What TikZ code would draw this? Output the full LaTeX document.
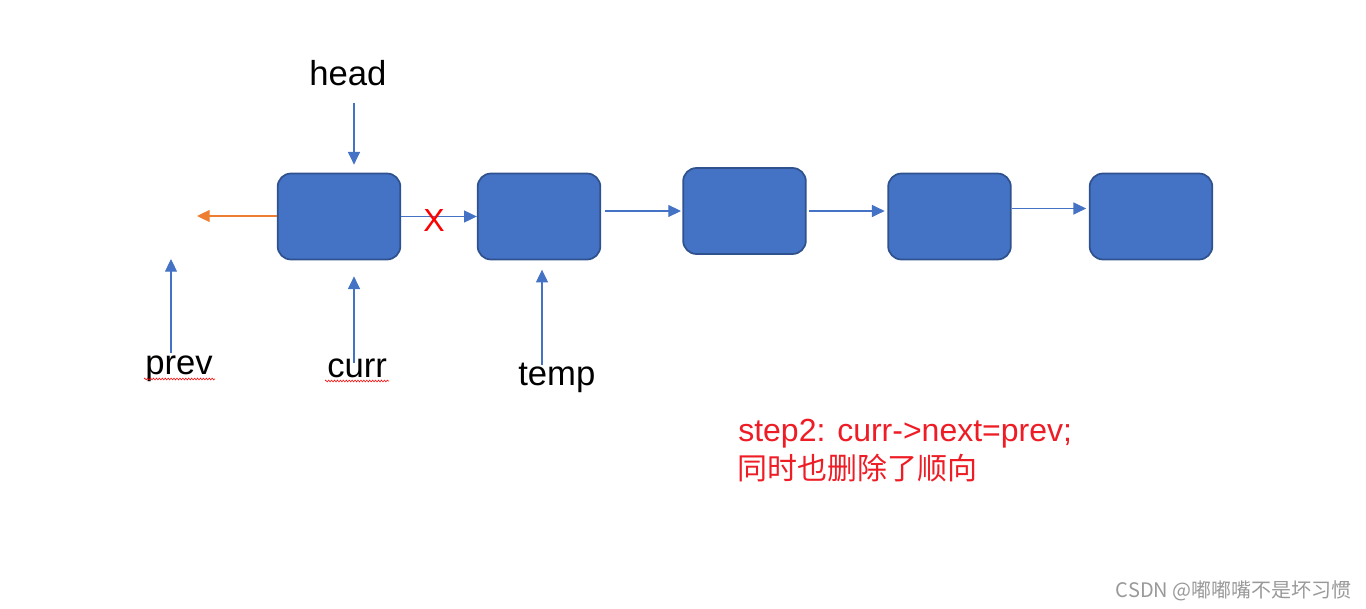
\documentclass[tikz,border=0pt]{standalone}
\usepackage{fontspec}
\setmainfont{Liberation Sans}
\newfontfamily\cjk{Noto Sans CJK SC}
\usetikzlibrary{arrows.meta,decorations.pathmorphing}
\definecolor{boxfill}{HTML}{4472C4}
\definecolor{boxline}{HTML}{2F528F}
\definecolor{arrblue}{HTML}{4472C4}
\definecolor{arrorange}{HTML}{ED7D31}
\definecolor{notered}{HTML}{EE1C25}
\definecolor{wmgray}{HTML}{999999}
\tikzset{
  nodebox/.style={draw=boxline, fill=boxfill, line width=1.3pt, rounded corners=10pt,
    minimum width=92pt, minimum height=64.5pt, inner sep=0pt},
  ptr/.style={draw=arrblue, line width=0.8pt, -{Triangle[length=9.5pt,width=9pt]}},
  optr/.style={draw=arrorange, line width=0.8pt, -{Triangle[length=9.5pt,width=9pt]}},
  lbl/.style={anchor=base west, inner sep=0pt, font=\fontsize{26}{30}\selectfont},
  wavy/.style={draw=red, line width=0.4pt, decorate, decoration={zigzag, amplitude=0.7pt, segment length=2.2pt}}
}
\begin{document}
\begin{tikzpicture}[x=0.75pt,y=-0.75pt]
\useasboundingbox (0,0) rectangle (1366,609);
% boxes
\node[nodebox] (b1) at (339,216.5) {};
\node[nodebox] (b2) at (539,216.5) {};
\node[nodebox] (b3) at (744.5,211) {};
\node[nodebox] (b4) at (949.5,216.5) {};
\node[nodebox] (b5) at (1151,216.5) {};
% labels
\node[lbl] (head) at (309,86) {head};
\node[lbl] (prev) at (145,374) {prev};
\node[lbl] (curr) at (327,377) {curr};
\node[lbl] (temp) at (518,385) {temp};
% pointer ends
\coordinate (headS) at (354,103);
\coordinate (prevS) at (171,353);
\coordinate (prevT) at (171,259);
\coordinate (currS) at (354,363);
\coordinate (tempS) at (542,365);
\coordinate (nullT) at (197,216);
% pointer arrows
\draw[ptr] (headS) -- ([yshift=6pt]b1.north -| headS);
\draw[ptr] (prevS) -- (prevT);
\draw[ptr] (currS) -- ([yshift=-12pt]b1.south -| currS);
\draw[ptr] (tempS) -- ([yshift=-7pt]b2.south -| tempS);
% links
\draw[optr] (b1.west |- nullT) -- (nullT);
\draw[ptr] (b1.east) -- (b2.west);
\draw[ptr, shorten <=3pt, shorten >=1pt] (b2.east |- b3.west) -- (b3.west);
\draw[ptr, shorten <=2pt, shorten >=2pt] (b3.east) -- (b4.west |- b3.east);
\draw[ptr, shorten >=2pt] ([yshift=6pt]b4.east) -- ([yshift=6pt]b5.west);
% cross
\node[text=red, inner sep=0pt, font=\fontsize{24}{26}\selectfont] (cross) at (434,220) {X};
% spell-check underlines
\draw[wavy] (144,379) -- (215,379);
\draw[wavy] (325,381) -- (389,381);
% note
\node[anchor=base west, inner sep=0pt, text=notered, font=\fontsize{24}{28}\selectfont] (note1) at (738,441) {step2: curr->next=prev;};
\node[anchor=base west, inner sep=0pt, text=notered, font=\cjk\fontsize{22.5}{26}\selectfont] (note2) at (737,479) {同时也删除了顺向};
% watermark
\node[anchor=base east, inner sep=0pt, text=wmgray, font=\cjk\fontsize{15}{18}\selectfont] (wm) at (1352,597) {CSDN @嘟嘟嘴不是坏习惯};
\end{tikzpicture}
\end{document}
